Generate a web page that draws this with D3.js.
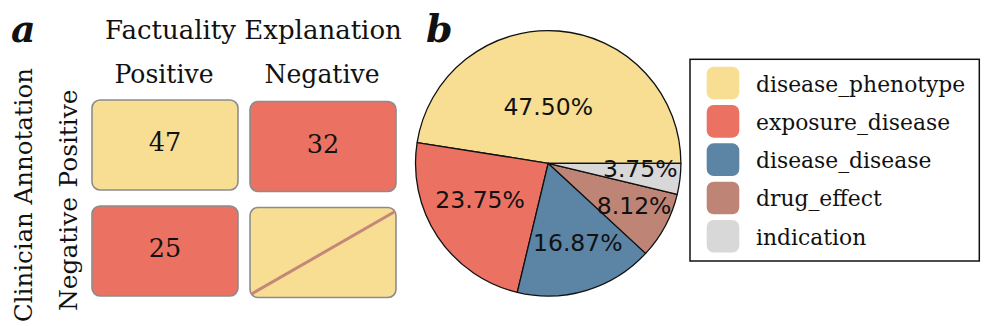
<!DOCTYPE html>
<html>
<head>
<meta charset="utf-8">
<script src="https://cdn.jsdelivr.net/npm/d3@7"></script>
<style>
  html, body { margin: 0; padding: 0; background: #ffffff; }
  svg { display: block; }
</style>
</head>
<body>
<svg id="chart" width="996" height="326"></svg>
<script>
// ---------- data ----------
const colLabels = ["Positive", "Negative"];          // Factuality Explanation
const rowLabels = ["Positive", "Negative"];          // Clinician Annotation
const matrixRow0 = [47, 32];
const matrixRow1 = [25, null];
const pieCategories = ["disease_phenotype", "exposure_disease", "disease_disease", "drug_effect", "indication"];
const piePercents = [47.50, 23.75, 16.87, 8.12, 3.75];

// ---------- styles ----------
const pieColors = ["#F7DE93", "#EB7262", "#5B84A5", "#BE8476", "#D8D8D8"];
const agreeColor = "#F7DE93", disagreeColor = "#EB7262", slashColor = "#C4887A";
const serif = "'DejaVu Serif', 'Liberation Serif', 'Noto Serif', serif";
const sans = "'DejaVu Sans', sans-serif";

const svg = d3.select("#chart");

// scale a group of texts so their widths match the widths
function fitGroup(sel, targets) {
  let ratios = [];
  sel.each(function (d, i) {
    const w = this.getComputedTextLength();
    if (w > 0) ratios.push(targets[i] / w);
  });
  const k = ratios.length ? d3.mean(ratios) : 1;
  sel.attr("font-size", function () { return +d3.select(this).attr("font-size") * k; });
}

// ---------- panel a ----------
const matrix = [matrixRow0, matrixRow1];
const x = d3.scaleBand().domain(colLabels.map((d, i) => i)).range([92, 396]).paddingInner(0.076);
const y = d3.scaleBand().domain(rowLabels.map((d, i) => i)).range([100, 296]).paddingInner(0.151);

const cells = [];
matrix.forEach((row, r) => row.forEach((v, c) => cells.push({ r, c, v })));

const gA = svg.append("g");
const cellG = gA.selectAll("g.cell").data(cells).enter().append("g").attr("class", "cell")
  .attr("transform", d => `translate(${x(d.c)},${y(d.r) + (d.c === 1 ? 1.5 : 0)})`);

cellG.append("rect")
  .attr("width", x.bandwidth()).attr("height", y.bandwidth())
  .attr("rx", 8).attr("ry", 8)
  .attr("fill", d => (d.v === null || d.r === d.c) ? agreeColor : disagreeColor)
  .attr("stroke", "#8c8c8c").attr("stroke-width", 1.6);

cellG.filter(d => d.v === null).append("line")
  .attr("x1", 1.5).attr("y1", y.bandwidth() - 3.5)
  .attr("x2", x.bandwidth() - 1).attr("y2", 4)
  .attr("stroke", slashColor).attr("stroke-width", 3);

cellG.filter(d => d.v !== null).append("text")
  .attr("x", x.bandwidth() / 2).attr("y", y.bandwidth() / 2 + 6.3)
  .attr("text-anchor", "middle")
  .attr("font-family", serif).attr("font-size", 25.5).attr("fill", "#111")
  .text(d => d.v);

// column headers
const colH = gA.selectAll("text.colh").data(colLabels).enter().append("text").attr("class", "colh")
  .attr("x", (d, i) => x(i) + x.bandwidth() / 2 - 1).attr("y", 83)
  .attr("text-anchor", "middle").attr("font-family", serif).attr("font-size", 30).attr("fill", "#111")
  .text(d => d);
fitGroup(colH, [102, 111.6]);

const title = gA.append("text").attr("x", 253.5).attr("y", 39).attr("text-anchor", "middle")
  .attr("font-family", serif).attr("font-size", 30).attr("fill", "#111")
  .text("Factuality Explanation");
fitGroup(title, [297]);

// row headers (rotated)
const rowH = gA.selectAll("text.rowh").data(rowLabels).enter().append("text").attr("class", "rowh")
  .attr("transform", (d, i) => `translate(77,${y(i) + y.bandwidth() / 2 + (i === 0 ? -6.5 : 3)}) rotate(-90)`)
  .attr("text-anchor", "middle").attr("font-family", serif).attr("font-size", 30).attr("fill", "#111")
  .text(d => d);
fitGroup(rowH, [100, 112]);

const yTitle = gA.append("text").attr("transform", "translate(31.5,195) rotate(-90)").attr("text-anchor", "middle")
  .attr("font-family", serif).attr("font-size", 30).attr("fill", "#111")
  .text("Clinician Annotation");
fitGroup(yTitle, [254]);

// panel letters
svg.append("text").attr("x", 11).attr("y", 42).attr("font-family", serif).attr("font-weight", "bold")
  .attr("font-style", "italic").attr("font-size", 38).attr("fill", "#111").text("a");
svg.append("text").attr("x", 426).attr("y", 41.5).attr("font-family", serif).attr("font-weight", "bold")
  .attr("font-style", "italic").attr("font-size", 38).attr("fill", "#111").text("b");

// ---------- panel b: pie ----------
const cx = 548.2, cy = 163.3, R = 132.7;
const total = d3.sum(piePercents);
const pie = d3.pie().sort(null).value(d => d).startAngle(Math.PI / 2).endAngle(Math.PI / 2 - 2 * Math.PI);
const arcs = pie(piePercents);
const arc = d3.arc().innerRadius(0).outerRadius(R);

const gB = svg.append("g").attr("transform", `translate(${cx},${cy})`);
gB.selectAll("path").data(arcs).enter().append("path")
  .attr("d", arc)
  .attr("fill", (d, i) => pieColors[i])
  .attr("stroke", "#111").attr("stroke-width", 1.3).attr("stroke-linejoin", "round");

// label placement: radial fraction and angle nudge (radians) per wedge
const labelRadius = [0.427, 0.58, 0.64, 0.72, 0.695];
const labelNudge = [-0.078, 0.106, -0.061, -0.038, -0.063];
gB.selectAll("text.pct").data(arcs).enter().append("text").attr("class", "pct")
  .attr("x", (d, i) => R * labelRadius[i] * Math.sin((d.startAngle + d.endAngle) / 2 + labelNudge[i]))
  .attr("y", (d, i) => -R * labelRadius[i] * Math.cos((d.startAngle + d.endAngle) / 2 + labelNudge[i]))
  .attr("dy", "0.36em")
  .attr("text-anchor", "middle").attr("font-family", sans).attr("font-size", 23.5).attr("fill", "#111")
  .text(d => (100 * d.value / total).toFixed(2) + "%");

// ---------- legend ----------
const lg = svg.append("g");
lg.append("rect").attr("x", 690).attr("y", 59.3).attr("width", 289.3).attr("height", 201.7)
  .attr("fill", "#fff").attr("stroke", "#111").attr("stroke-width", 1.5);
const ly = d3.scalePoint().domain(pieCategories).range([83, 236.3]);
const items = lg.selectAll("g.item").data(pieCategories).enter().append("g").attr("class", "item")
  .attr("transform", d => `translate(0,${ly(d)})`);
items.append("rect").attr("x", 706.7).attr("y", -16.3).attr("width", 32.6).attr("height", 32.6)
  .attr("rx", 7).attr("ry", 7).attr("fill", (d, i) => pieColors[i]);
const legText = items.append("text").attr("x", 756).attr("y", 8.5)
  .attr("font-family", serif).attr("font-size", 26).attr("fill", "#111")
  .text(d => d);
const legTargets = { "disease_phenotype": 208, "exposure_disease": 189, "indication": 114 };
fitGroup(legText.filter(d => d in legTargets), [208, 189, 114]);
legText.attr("font-size", legText.filter(d => d === "disease_phenotype").attr("font-size"));
</script>
</body>
</html>
